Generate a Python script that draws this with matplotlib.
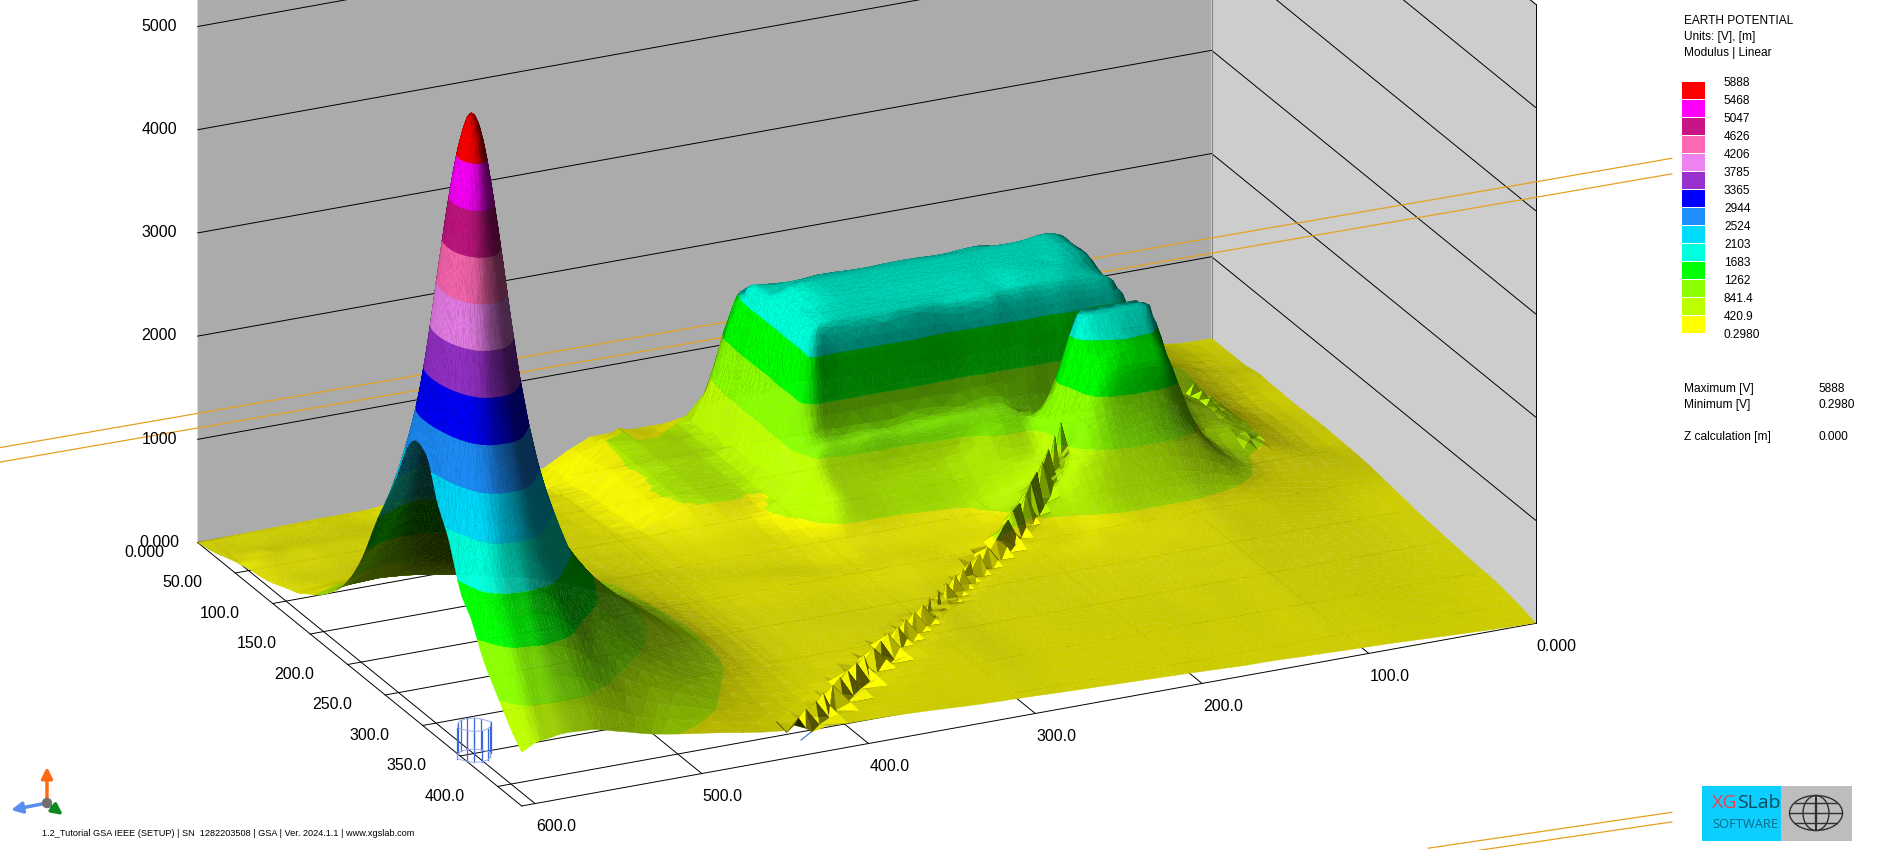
import numpy as np
import matplotlib
matplotlib.use("Agg")
import matplotlib.pyplot as plt
import matplotlib.tri as mtri
from matplotlib.patches import Ellipse, Rectangle
from mpl_toolkits.mplot3d.art3d import Poly3DCollection

plt.rcParams['font.family'] = ['Liberation Sans', 'DejaVu Sans']

# Potential surface [V], one row per y_grid value
x_grid = [0, 40, 75, 100, 112, 120, 140, 155, 175, 190, 225, 265, 292, 300, 310, 345,
          400, 450, 500, 530, 549, 565, 574, 581, 588, 597, 608]
y_grid = [0, 30, 50, 58, 75, 100, 125, 132, 140, 150, 158, 175, 195, 203, 215, 240, 260,
          275, 289, 298, 305, 312, 321, 337, 357, 385, 432]
z_rows = [
    [210, 290, 380, 440, 470, 480, 480, 480, 480, 480, 480, 470, 460, 450, 430, 340, 120, 70, 30, 20, 15, 12, 10, 8, 6, 4, 2],
    [212, 325, 500, 800, 1250, 1550, 1600, 1650, 1650, 1650, 1650, 1650, 1680, 1600, 900, 425, 150, 120, 90, 80, 75, 70, 68, 65, 62, 60, 55],
    [220, 350, 575, 1050, 1650, 1780, 1820, 1850, 1850, 1850, 1850, 1850, 1850, 1700, 960, 435, 190, 190, 150, 150, 150, 150, 145, 145, 145, 125, 110],
    [235, 365, 590, 1100, 1700, 1880, 1900, 1900, 1900, 1900, 1900, 1900, 1850, 1700, 960, 435, 205, 200, 165, 170, 170, 170, 165, 160, 160, 155, 125],
    [235, 365, 585, 1120, 1740, 1950, 2000, 2000, 2000, 2000, 2000, 2000, 1930, 1700, 970, 435, 220, 220, 205, 195, 190, 190, 185, 180, 175, 170, 155],
    [230, 340, 605, 1150, 1740, 1950, 2000, 2000, 2000, 2000, 2000, 2000, 1930, 1700, 985, 435, 240, 240, 235, 235, 235, 235, 230, 225, 220, 215, 197],
    [235, 350, 620, 1150, 1740, 1900, 1950, 1950, 1950, 1950, 1950, 1950, 1930, 1700, 990, 430, 260, 265, 270, 285, 300, 315, 315, 310, 305, 295, 275],
    [235, 355, 640, 1130, 1700, 1780, 1780, 1780, 1780, 1780, 1780, 1780, 1780, 1700, 985, 415, 270, 270, 285, 305, 330, 335, 340, 335, 330, 315, 295],
    [240, 360, 650, 1090, 1150, 1150, 1200, 1200, 1180, 1160, 1150, 1150, 1150, 1150, 900, 400, 280, 280, 305, 335, 355, 380, 380, 375, 370, 360, 330],
    [240, 365, 640, 950, 900, 800, 800, 800, 850, 990, 980, 950, 930, 920, 800, 390, 285, 295, 335, 365, 405, 435, 440, 435, 430, 415, 385],
    [240, 365, 610, 900, 1300, 1700, 1750, 1500, 950, 950, 875, 840, 810, 800, 740, 380, 290, 305, 355, 405, 450, 475, 480, 475, 470, 455, 425],
    [235, 360, 530, 1000, 1720, 1880, 1880, 1720, 900, 750, 665, 610, 590, 590, 520, 350, 305, 335, 420, 495, 560, 620, 635, 630, 625, 600, 545],
    [230, 345, 465, 900, 1400, 1500, 1500, 1350, 850, 660, 470, 400, 390, 385, 380, 330, 310, 365, 505, 620, 740, 850, 880, 880, 870, 830, 740],
    [225, 335, 450, 820, 1100, 1200, 1200, 1100, 800, 620, 440, 380, 360, 355, 345, 310, 315, 380, 550, 690, 840, 970, 1015, 1020, 1005, 950, 850],
    [215, 320, 435, 700, 800, 850, 850, 820, 720, 590, 395, 345, 325, 320, 315, 280, 320, 400, 600, 820, 1040, 1200, 1245, 1260, 1235, 1180, 1058],
    [190, 240, 340, 400, 430, 440, 440, 440, 410, 370, 375, 345, 340, 335, 330, 320, 300, 410, 760, 1100, 1450, 1810, 1975, 2000, 1965, 1790, 1650],
    [170, 190, 260, 310, 330, 335, 340, 335, 330, 320, 300, 305, 305, 300, 295, 290, 300, 430, 900, 1350, 1890, 2580, 2825, 2920, 2815, 2560, 2080],
    [150, 170, 225, 265, 285, 290, 295, 295, 290, 285, 280, 285, 285, 285, 280, 280, 300, 440, 960, 1500, 2330, 3210, 3825, 3980, 3815, 3190, 2480],
    [140, 160, 205, 240, 255, 260, 265, 270, 270, 270, 270, 280, 280, 280, 280, 280, 300, 450, 1010, 1600, 2460, 3980, 4890, 5210, 4890, 3960, 2700],
    [135, 155, 195, 225, 240, 245, 250, 255, 260, 260, 265, 275, 280, 280, 280, 285, 300, 450, 1040, 1640, 2550, 4300, 5380, 5690, 5370, 4290, 2700],
    [130, 150, 190, 220, 235, 240, 245, 250, 250, 255, 260, 275, 280, 285, 285, 290, 300, 450, 1050, 1670, 2590, 4380, 5525, 5888, 5515, 4360, 2650],
    [125, 145, 185, 215, 230, 235, 240, 245, 245, 250, 255, 270, 280, 285, 290, 295, 300, 450, 1050, 1650, 2560, 4310, 5390, 5690, 5380, 4290, 2500],
    [120, 140, 180, 205, 220, 225, 230, 235, 240, 245, 250, 265, 275, 285, 290, 300, 300, 445, 1020, 1610, 2470, 3990, 4900, 5220, 4895, 3965, 2250],
    [110, 130, 170, 195, 205, 210, 215, 225, 230, 235, 245, 260, 270, 280, 290, 300, 300, 430, 950, 1480, 2220, 3130, 3725, 3820, 3715, 3110, 1950],
    [100, 120, 155, 180, 190, 195, 200, 210, 215, 225, 240, 255, 265, 275, 285, 295, 295, 400, 840, 1260, 1690, 2280, 2505, 2540, 2490, 2260, 1500],
    [85, 100, 135, 155, 165, 170, 175, 185, 195, 205, 220, 235, 250, 260, 270, 280, 280, 340, 640, 915, 1160, 1410, 1475, 1500, 1460, 1385, 1050],
    [5, 25, 50, 65, 70, 75, 85, 95, 100, 110, 130, 150, 165, 170, 175, 195, 230, 270, 390, 470, 550, 615, 625, 630, 620, 600, 520],
]

# Sawtooth crests, notches and lit feet along the buried conductors
ridge_x = [442, 434, 425, 417, 408, 400, 392, 383, 375, 366, 358, 350, 341, 333, 324, 316, 308, 299, 291, 282, 274, 266, 257, 249, 241,
           235, 229, 224, 218, 212, 207, 201, 196, 190, 184, 178,
           62, 62, 62, 62, 62, 62, 62, 62]
ridge_y = [432, 424, 417, 409, 402, 394, 386, 378, 370, 363, 355, 347, 340, 332, 324, 317, 309, 301, 293, 285, 278, 270, 262, 255, 248,
           243, 238, 233, 229, 224, 219, 214, 210, 205, 200, 195,
           115, 125, 135, 145, 155, 165, 175, 185]
ridge_z = [370, 385, 395, 405, 410, 415, 415, 415, 415, 415, 415, 415, 415, 415, 415, 415, 415, 415, 415, 415, 415, 415, 415, 415, 420,
           480, 520, 560, 600, 650, 700, 760, 820, 900, 980, 1060,
           640, 620, 600, 570, 540, 520, 500, 480]
notch_x = [434, 426, 417, 409, 400, 392, 384, 375, 367, 358, 350, 342, 333, 325, 316, 308, 300, 291, 283, 274, 266, 258, 249, 241, 233,
           227, 221, 216, 210, 204, 199, 193, 188, 182, 176, 170,
           52, 52, 52, 52, 52, 52, 52, 52]
notch_y = [432, 424, 417, 409, 402, 394, 386, 378, 370, 363, 355, 347, 340, 332, 324, 317, 309, 301, 293, 285, 278, 270, 262, 255, 248,
           243, 238, 233, 229, 224, 219, 214, 210, 205, 200, 195,
           115, 125, 135, 145, 155, 165, 175, 185]
notch_z = [210, 210, 210, 210, 210, 210, 210, 210, 210, 210, 210, 210, 210, 210, 210, 210, 210, 210, 210, 210, 215, 220, 230, 240, 260,
           300, 320, 340, 370, 400, 440, 490, 550, 620, 700, 760,
           480, 475, 470, 460, 450, 440, 430, 425]
lit_x = [449, 441, 432, 424, 415, 407, 399, 390, 382, 373, 365, 357, 348, 340, 331, 323, 315, 306, 298, 289, 281, 273, 264, 256, 248]
lit_y = [432, 424, 417, 409, 402, 394, 386, 378, 370, 363, 355, 347, 340, 332, 324, 317, 309, 301, 293, 285, 278, 270, 262, 255, 248]
lit_z = [250, 250, 255, 255, 255, 255, 255, 255, 255, 255, 255, 255, 255, 255, 255, 255, 255, 255, 255, 255, 255, 255, 260, 265, 280]

# Legend
legend_labels = ['5888', '5468', '5047', '4626', '4206', '3785', '3365', '2944', '2524', '2103', '1683', '1262', '841.4', '420.9', '0.2980']
levels = [0.298, 420.9, 841.4, 1262, 1683, 2103, 2524, 2944, 3365, 3785, 4206, 4626, 5047, 5468, 5888]
band_colors = [(255, 255, 0), (190, 255, 0), (140, 255, 0), (0, 255, 0), (0, 255, 220), (0, 220, 255), (30, 144, 255),
               (0, 0, 255), (153, 50, 204), (238, 130, 238), (255, 105, 180), (199, 21, 133), (255, 0, 255), (255, 0, 0)]

# Axis labels
x_ticks = [0, 100, 200, 300, 400, 500, 600]
x_labels = ['0.000', '100.0', '200.0', '300.0', '400.0', '500.0', '600.0']
y_ticks = [0, 50, 100, 150, 200, 250, 300, 350, 400]
y_labels = ['0.000', '50.00', '100.0', '150.0', '200.0', '250.0', '300.0', '350.0', '400.0']
z_ticks = [0, 1000, 2000, 3000, 4000, 5000]
z_labels = ['0.000', '1000', '2000', '3000', '4000', '5000']

# Electrode rods near the front corner and the overhead lines
rod_x = [601, 605, 608, 611, 608, 605, 601, 597, 594, 591, 594, 597]
rod_y = [343, 344, 347, 353, 359, 362, 363, 362, 359, 353, 347, 344]
rod_h = 300
line_x = [[727, -276], [727, -276], [-276, -130], [-276, -130]]
line_z = [[1265, 1151], [1125, 1000], [-5186, -5109], [-5279, -5202]]

X_MAX, Y_MAX, Z_MAX = 608, 432, 6000
ELEV, AZIM = 22.5, 64.8
BOX = np.array([933.7, 634.0, 558.5])


def clip(poly, level, keep_above):
    out = []
    for i in range(len(poly)):
        p, q = poly[i], poly[(i + 1) % len(poly)]
        p_in = p[2] >= level if keep_above else p[2] <= level
        q_in = q[2] >= level if keep_above else q[2] <= level
        if p_in:
            out.append(p)
        if p_in != q_in:
            out.append(p + (q - p) * (level - p[2]) / (q[2] - p[2]))
    return out


def brightness(n):
    # headlight fixed to the left of the camera, undersides go dark
    n = n / (np.linalg.norm(n, axis=1, keepdims=True) + 1e-9)
    side_x = np.where(n[:, 0] > 0, 0.68, 0.5) * n[:, 0]
    br = np.clip(0.2 + side_x + 0.15 * n[:, 1] + 0.6 * n[:, 2], 0.32, 1.0)
    el, az = np.radians(ELEV), np.radians(AZIM)
    cam = np.array([np.cos(az) * np.cos(el), np.sin(az) * np.cos(el), np.sin(el)])
    return np.where(n @ cam < 0, br * 0.45, br)


fig = plt.figure(figsize=(18.82, 8.5), dpi=100)
S = 2934
ax = fig.add_axes([-640 / 1882, -930 / 850, S / 1882, S / 850], projection='3d', computed_zorder=False)
ax.set_proj_type('ortho')
ax.view_init(elev=ELEV, azim=AZIM)
ax.set_box_aspect(BOX, zoom=0.5)
ax.set_xlim(0, X_MAX)
ax.set_ylim(0, Y_MAX)
ax.set_zlim(0, Z_MAX)
ax.set_axis_off()

# Walls
back = [[(0, 0, 0), (X_MAX, 0, 0), (X_MAX, 0, Z_MAX), (0, 0, Z_MAX)]]
side = [[(0, 0, 0), (0, Y_MAX, 0), (0, Y_MAX, Z_MAX), (0, 0, Z_MAX)]]
ax.add_collection3d(Poly3DCollection(back, facecolors='#ababab', edgecolors='#ababab', zorder=1))
ax.add_collection3d(Poly3DCollection(side, facecolors='#cdcdcd', edgecolors='#cdcdcd', zorder=1))

# Wall and floor grid
for z in z_ticks[1:] + [Z_MAX]:
    ax.plot([X_MAX, 0, 0], [0, 0, Y_MAX], [z, z, z], color='black', lw=0.7, zorder=2)
ax.plot([0, 0], [0, 0], [0, Z_MAX], color='#808080', lw=0.8, zorder=2)
ax.plot([0, 0], [Y_MAX, Y_MAX], [0, Z_MAX], color='black', lw=0.7, zorder=2)
for y in y_ticks + [Y_MAX]:
    ax.plot([X_MAX, 0], [y, y], [0, 0], color='black', lw=0.7, zorder=2)
for x in x_ticks[1:] + [X_MAX]:
    ax.plot([x, x], [0, Y_MAX], [0, 0], color='black', lw=0.7, zorder=2)

# Overhead lines
for lx, lz in zip(line_x, line_z):
    ax.plot(lx, [0, 0], lz, color='#e8a020', lw=0.9, zorder=2)

# Rods
for rx, ry in zip(rod_x, rod_y):
    ax.plot([rx, rx], [ry, ry], [0, rod_h], color='#3a66e0', lw=0.9, zorder=2.5)
ax.plot(rod_x + rod_x[:1], rod_y + rod_y[:1], [rod_h] * (len(rod_x) + 1), color='#9ab0ea', lw=0.7, zorder=2.5)
ax.plot(rod_x + rod_x[:1], rod_y + rod_y[:1], [0] * (len(rod_x) + 1), color='#9ab0ea', lw=0.7, zorder=2.5)
ax.plot([431, 417], [411, 399], [0, 0], color='#3a66e0', lw=0.8, zorder=2.5)

# Surface: finer mesh from the library refiner, kept inside each coarse cell, then the ridge points
gx, gy = np.meshgrid(x_grid, y_grid)
coarse = mtri.Triangulation(gx.ravel().astype(float), gy.ravel().astype(float))
coarse_z = np.array(z_rows, dtype=float).ravel()
fine, fine_z = mtri.UniformTriRefiner(coarse).refine_field(coarse_z, subdiv=2)
owner = coarse.get_trifinder()(fine.x, fine.y)
corner_z = coarse_z[coarse.triangles[owner]]
fine_z = np.clip(fine_z, corner_z.min(axis=1), corner_z.max(axis=1))

px = np.concatenate([fine.x, ridge_x, notch_x, lit_x])
py = np.concatenate([fine.y, ridge_y, notch_y, lit_y])
pz = np.concatenate([fine_z, ridge_z, notch_z, lit_z])
tri = mtri.Triangulation(px, py)
tris = tri.triangles

# Smooth shading on the mesh, flat shading on the ridge teeth
xyz = np.column_stack([px, py, pz]) * (BOX / [X_MAX, Y_MAX, Z_MAX])
face_n = np.cross(xyz[tris[:, 1]] - xyz[tris[:, 0]], xyz[tris[:, 2]] - xyz[tris[:, 0]])
face_n[face_n[:, 2] < 0] *= -1
vert_n = np.zeros_like(xyz)
for k in range(3):
    np.add.at(vert_n, tris[:, k], face_n)
vert_br = brightness(vert_n)
tri_br = vert_br[tris].mean(axis=1)
acc, cnt = np.zeros(len(px)), np.zeros(len(px))
for k in range(3):
    np.add.at(acc, tris[:, k], tri_br)
    np.add.at(cnt, tris[:, k], 1)
vert_br = acc / cnt
tri_br = vert_br[tris].mean(axis=1)
on_ridge = (tris >= len(fine.x)).any(axis=1)
tri_br[on_ridge] = brightness(face_n[on_ridge])

polys, cols = [], []
for t, br in zip(tris, tri_br):
    pts = np.column_stack([px[t], py[t], pz[t]])
    for i, col in enumerate(band_colors):
        lo, hi = levels[i], levels[i + 1]
        if pts[:, 2].max() < lo or pts[:, 2].min() > hi:
            continue
        poly = clip([p for p in pts], lo, True)
        if poly:
            poly = clip(poly, hi, False)
        if len(poly) >= 3:
            polys.append(np.array(poly))
            cols.append(tuple(c / 255 * br for c in col))
surf = Poly3DCollection(polys, facecolors=cols, edgecolors=cols, linewidths=0.25, zorder=3)
ax.add_collection3d(surf)

# Axis labels
for x, lab in zip(x_ticks, x_labels):
    ax.text(x, 460, -60, lab, fontsize=11.5, ha='center', va='center', zorder=5)
for y, lab in zip(y_ticks, y_labels):
    ax.text(640, y, 0, lab, fontsize=11.5, ha='center', va='center', zorder=5)
for z, lab in zip(z_ticks, z_labels):
    ax.text(631, 0, z + 70, lab, fontsize=11.5, ha='center', va='center', zorder=5)

# Overlay in pixels for legend, triad, footer and logo
ov = fig.add_axes([0, 0, 1, 1], zorder=10)
ov.set_xlim(0, 1882)
ov.set_ylim(850, 0)
ov.axis('off')
ov.patch.set_alpha(0)

for i, txt in enumerate(['EARTH POTENTIAL', 'Units: [V], [m]', 'Modulus | Linear']):
    ov.text(1684, 21 + 16 * i, txt, fontsize=8.6, va='center')
for i, col in enumerate(band_colors[::-1]):
    ov.add_patch(Rectangle((1682, 82 + 18 * i), 23, 17, color=tuple(c / 255 for c in col), lw=0))
for i, lab in enumerate(legend_labels):
    ov.text(1724, 83 + 18 * i, lab, fontsize=8.6, va='center')
ov.text(1684, 389, 'Maximum [V]', fontsize=8.6, va='center')
ov.text(1684, 405, 'Minimum [V]', fontsize=8.6, va='center')
ov.text(1684, 437, 'Z calculation [m]', fontsize=8.6, va='center')
ov.text(1819, 389, '5888', fontsize=8.6, va='center')
ov.text(1819, 405, '0.2980', fontsize=8.6, va='center')
ov.text(1819, 437, '0.000', fontsize=8.6, va='center')

ov.text(42, 833, '1.2_Tutorial GSA IEEE (SETUP) | SN  1282203508 | GSA | Ver. 2024.1.1 | www.xgslab.com',
        fontsize=6.6, va='center')

# Triad
for end, col in [((47, 767), '#ff6a13'), ((11, 810), '#5b8def'), ((63, 815), '#0a8a1e')]:
    ov.annotate('', xy=end, xytext=(47, 803),
                arrowprops=dict(arrowstyle='-|>', color=col, lw=2.5, mutation_scale=16, shrinkA=0, shrinkB=0))
ov.add_patch(Ellipse((47, 803), 9, 9, color='#707070', zorder=5))

# Logo
ov.add_patch(Rectangle((1702, 786), 79, 55, color='#0ccfff', lw=0))
ov.add_patch(Rectangle((1781, 786), 71, 55, color='#bdbdbd', lw=0))
ov.text(1712, 803, 'XG', color='#f0404f', fontsize=14, va='center', family=['Open Sans', 'DejaVu Sans'])
ov.text(1737, 803, 'SLab', color='#0a4a60', fontsize=14, va='center', family=['Open Sans', 'DejaVu Sans'])
ov.text(1712, 825, 'SOFTWARE', color='#0a6a85', fontsize=9.3, va='center', family=['Open Sans', 'DejaVu Sans'])
for w in [53, 26, 1]:
    ov.add_patch(Ellipse((1816, 813), w, 35, fill=False, ec='#303030', lw=1))
ov.plot([1790, 1842], [813, 813], color='#303030', lw=1)
ov.plot([1795, 1837], [803, 803], color='#303030', lw=1)
ov.plot([1795, 1837], [823, 823], color='#303030', lw=1)

fig.savefig('out.png', dpi=100)
